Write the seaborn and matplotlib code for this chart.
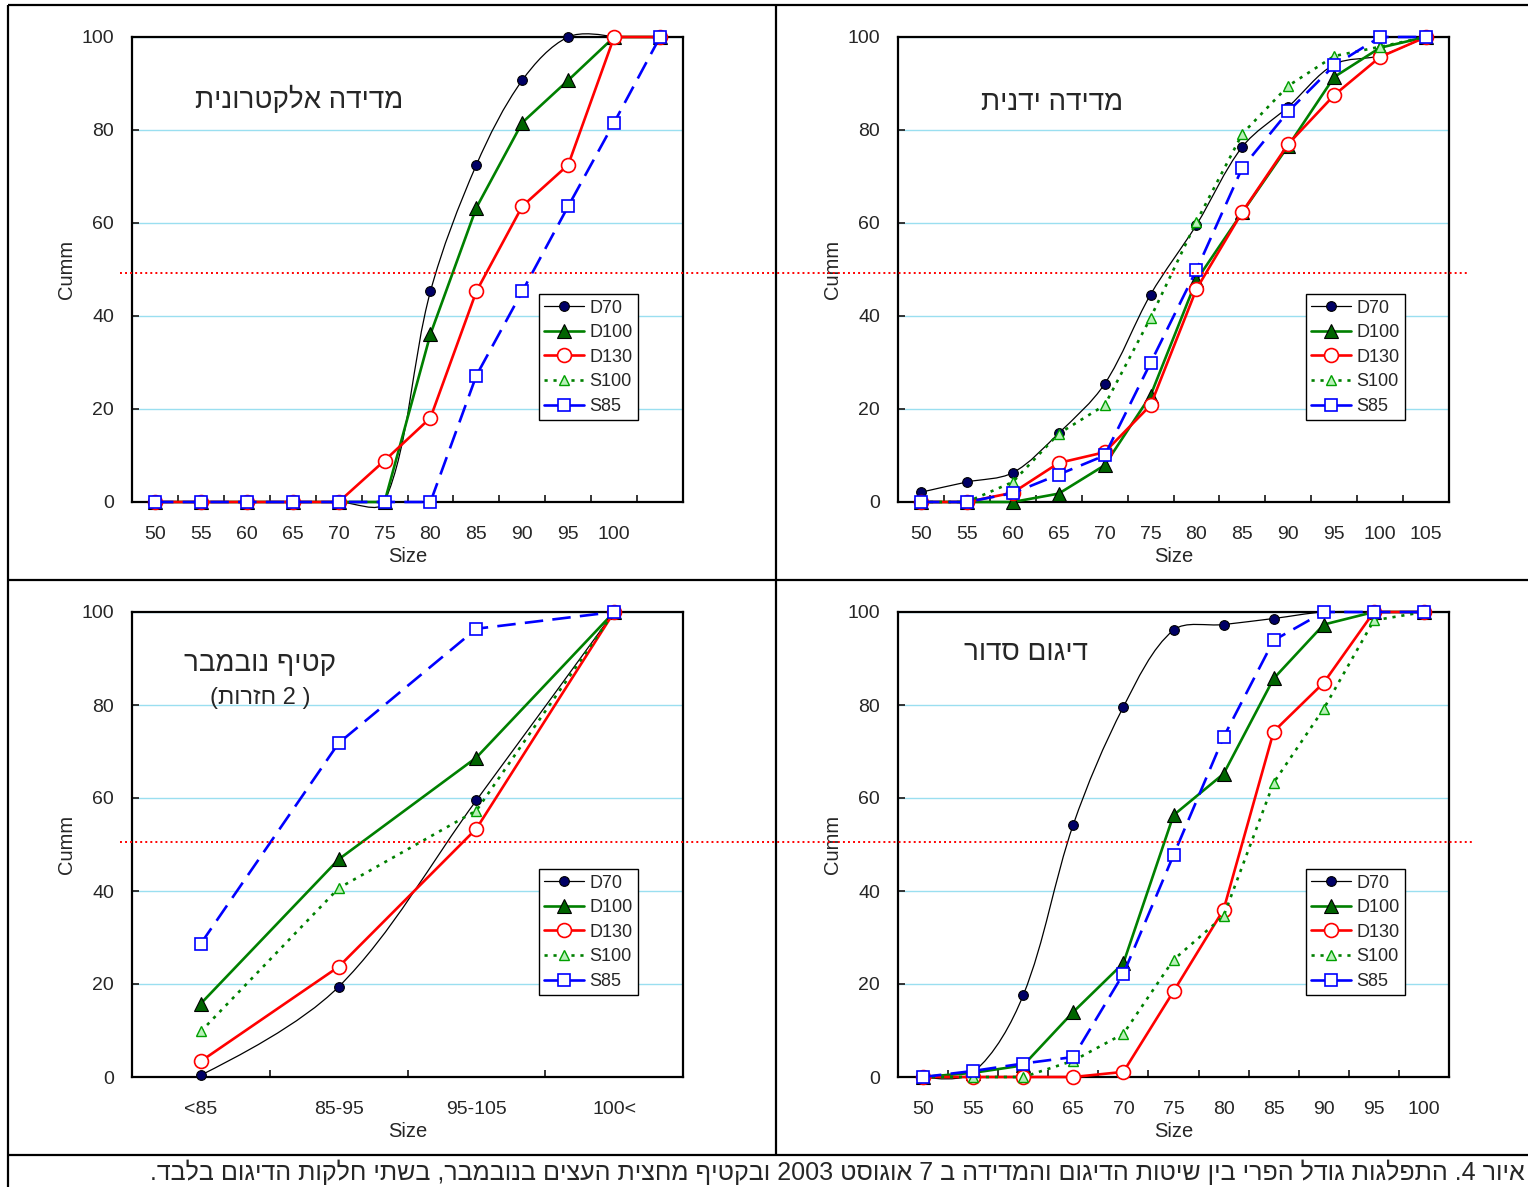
import re
import numpy as np
import pandas as pd
import matplotlib
matplotlib.use("Agg")
import matplotlib.pyplot as plt
import seaborn as sns
from matplotlib.lines import Line2D
from matplotlib.path import Path
from matplotlib.patches import PathPatch

nan = np.nan

# ---------------- data ----------------
series_names = ["D70", "D100", "D130", "S100", "S85"]

sizes_12 = ["50", "55", "60", "65", "70", "75", "80", "85", "90", "95", "100", "105"]
labels_el = ["50", "55", "60", "65", "70", "75", "80", "85", "90", "95", "100", ""]
sizes_11 = ["50", "55", "60", "65", "70", "75", "80", "85", "90", "95", "100"]
harvest_cats = ["<85", "85-95", "95-105", "100<"]

# Panel: electronic measurement
el_D70 = [0, 0, 0, 0, 0, 0, 45.3, 72.5, 90.7, 100, 100, nan]
el_D100 = [0, 0, 0, 0, 0, 0, 36.1, 63.3, 81.6, 90.7, 100, 100]
el_D130 = [0, 0, 0, 0, 0, 8.9, 18.1, 45.3, 63.6, 72.5, 100, 100]
el_S100 = [nan] * 12
el_S85 = [0, 0, 0, 0, 0, 0, 0, 27.2, 45.3, 63.6, 81.6, 100]

# Panel: manual measurement
ma_D70 = [2.1, 4.3, 6.3, 14.8, 25.4, 44.6, 59.6, 76.4, 85.0, 94.1, 96.0, 100]
ma_D100 = [0, 0, 0, 1.8, 7.9, 22.9, 47.7, 62.3, 76.6, 91.4, 97.7, 100]
ma_D130 = [0, 0, 2.0, 8.4, 10.7, 20.8, 45.8, 62.4, 77.0, 87.5, 95.7, 100]
ma_S100 = [0, 0, 4.3, 14.7, 20.8, 39.6, 60.3, 79.2, 89.5, 95.9, 97.9, 100]
ma_S85 = [0, 0, 1.9, 5.9, 10.0, 29.9, 49.9, 71.9, 84.0, 93.9, 100, 100]

# Panel: November harvest
hv_D70 = [0.4, 19.4, 59.5, 100]
hv_D100 = [15.8, 46.8, 68.7, 100]
hv_D130 = [3.4, 23.7, 53.4, 100]
hv_S100 = [9.8, 40.6, 57.3, 100]
hv_S85 = [28.7, 71.8, 96.4, 100]

# Panel: ordered sampling
sa_D70 = [0, 1.0, 17.6, 54.3, 79.6, 96.1, 97.3, 98.6, 100, 100, 100]
sa_D100 = [0, 0.9, 2.5, 14.0, 24.5, 56.3, 65.2, 85.7, 97.3, 100, 100]
sa_D130 = [0, 0, 0, 0, 1.1, 18.4, 36.0, 74.3, 84.8, 100, 100]
sa_S100 = [0, 0, 0, 3.5, 9.3, 25.2, 34.6, 63.3, 79.2, 98.2, 100]
sa_S85 = [0, 1.3, 2.9, 4.3, 22.2, 47.7, 73.1, 93.9, 100, 100, 100]

title_el = "מדידה אלקטרונית"
title_ma = "מדידה ידנית"
title_hv = "קטיף נובמבר"
subtitle_hv = "( 2 חזרות)"
title_sa = "דיגום סדור"
caption = ("איור 4. התפלגות גודל הפרי בין שיטות הדיגום והמדידה ב 7 אוגוסט 2003 "
           "ובקטיף מחצית העצים בנובמבר, בשתי חלקות הדיגום בלבד.")
ylabel = "Cumm"
xlabel = "Size"


def visual(s):
    """Convert logical-order RTL text to visual order for LTR rendering."""
    tokens = re.findall(r'[0-9A-Za-z]+|[\u0590-\u05FF]+|.', s)
    out = []
    for t in reversed(tokens):
        if re.match(r'[\u0590-\u05FF]', t):
            out.append(t[::-1])
        elif t == '(':
            out.append(')')
        elif t == ')':
            out.append('(')
        else:
            out.append(t)
    return ''.join(out)


# ---------------- style ----------------
sns.set_style("white")
FONT = ['Liberation Sans', 'DejaVu Sans']
plt.rcParams['font.family'] = FONT

styles = {
    "D70": dict(color="black", lw=0.9, marker="o", ms=7, mfc="#000066", mec="black", mew=0.8, ls="-"),
    "D100": dict(color="#008000", lw=1.9, marker="^", ms=9.5, mfc="#006400", mec="black", mew=0.8, ls="-"),
    "D130": dict(color="#FF0000", lw=1.9, marker="o", ms=10, mfc="white", mec="#FF0000", mew=1.2, ls="-"),
    "S100": dict(color="#008000", lw=1.9, marker="^", ms=7.5, mfc="#B8F0B8", mec="#00A000", mew=1.0, ls=(0, (1.2, 2.2))),
    "S85": dict(color="#0000FF", lw=1.9, marker="s", ms=9, mfc="white", mec="#0000FF", mew=1.2, ls=(0, (7, 3.5))),
}

GRID = "#9ADFF0"

fig = plt.figure(figsize=(15.28, 11.87), dpi=100)
W, H = 1528.0, 1187.0


def ax_rect(x0, y_top, x1, y_bot):
    return [x0 / W, 1 - y_bot / H, (x1 - x0) / W, (y_bot - y_top) / H]


def smooth_path(ax, xs, ys):
    """Excel-like smoothed line as cubic Bezier path (control lengths weighted by pixel distances)."""
    pts = np.array([(x, y) for x, y in zip(xs, ys) if not np.isnan(y)], dtype=float)
    px = ax.transData.transform(pts)
    n = len(pts)
    d = np.r_[np.hypot(*(px[1:] - px[:-1]).T)]
    out_c = np.zeros_like(pts)
    in_c = np.zeros_like(pts)
    for i in range(n):
        if i == 0 or i == n - 1:
            out_c[i] = pts[i]
            in_c[i] = pts[i]
            continue
        T = pts[i + 1] - pts[i - 1]
        d01, d12 = d[i - 1], d[i]
        s = d01 + d12 if d01 + d12 > 0 else 1.0
        out_c[i] = pts[i] + T * (1 / 3) * d12 / s
        in_c[i] = pts[i] - T * (1 / 3) * d01 / s
    if n > 2:
        out_c[0] = pts[0] + (in_c[1] - pts[0]) / 3
        in_c[n - 1] = pts[n - 1] + (out_c[n - 2] - pts[n - 1]) / 3
    verts = [tuple(pts[0])]
    codes = [Path.MOVETO]
    for i in range(n - 1):
        verts += [tuple(out_c[i]), tuple(in_c[i + 1]), tuple(pts[i + 1])]
        codes += [Path.CURVE4] * 3
    return Path(verts, codes)


def draw_panel(rect, cats, ticklabels, data, title, title_pos, subtitle=None, legend_x=0.918):
    ax = fig.add_axes(rect)
    n = len(cats)
    xpos = np.arange(n)
    ax.set_xlim(-0.5, n - 0.5)
    ax.set_ylim(0, 100)
    for name in series_names:
        vals = np.array(data[name], dtype=float)
        st = dict(styles[name])
        mask = ~np.isnan(vals)
        if mask.sum() == 0:
            continue
        df = pd.DataFrame({"x": xpos[mask], "y": vals[mask]})
        if name == "D70":
            path = smooth_path(ax, xpos, vals)
            patch = PathPatch(path, transform=ax.transData, fill=False,
                              edgecolor="black", lw=st["lw"], clip_on=False, zorder=3)
            ax.add_patch(patch)
            sns.lineplot(data=df, x="x", y="y", ax=ax, sort=False, estimator=None,
                         color=st["color"], marker=st["marker"], markersize=st["ms"],
                         markerfacecolor=st["mfc"], markeredgecolor=st["mec"],
                         markeredgewidth=st["mew"], linestyle="", clip_on=False, zorder=3)
        else:
            sns.lineplot(data=df, x="x", y="y", ax=ax, sort=False, estimator=None,
                         color=st["color"], lw=st["lw"], linestyle=st["ls"],
                         marker=st["marker"], markersize=st["ms"],
                         markerfacecolor=st["mfc"], markeredgecolor=st["mec"],
                         markeredgewidth=st["mew"], clip_on=False, zorder=3)

    ax.set_xlim(-0.5, n - 0.5)
    ax.set_ylim(0, 100)
    ax.set_xticks(xpos)
    ax.set_xticklabels(ticklabels)
    ax.set_xticks(np.arange(n - 1) + 0.5, minor=True)
    ax.set_yticks([0, 20, 40, 60, 80, 100])
    ax.tick_params(axis="x", which="major", length=0, pad=17, labelsize=14)
    ax.tick_params(axis="x", which="minor", length=5, width=1.3, direction="in", bottom=True)
    ax.tick_params(axis="y", which="major", length=5, width=1.3, direction="in", left=True,
                   pad=13, labelsize=14)
    ax.yaxis.grid(True, color=GRID, lw=1.0)
    ax.xaxis.grid(False)
    ax.set_axisbelow(True)
    for sp in ax.spines.values():
        sp.set_visible(True)
        sp.set_color("black")
        sp.set_linewidth(1.6)
        sp.set_zorder(2.5)
    ax.set_xlabel(xlabel, fontsize=14.5, labelpad=3)
    ax.set_ylabel(ylabel, fontsize=14.5, labelpad=4)

    ax.text(title_pos[0], title_pos[1], visual(title), transform=ax.transAxes,
            ha="center", va="center", fontsize=20, family=FONT)
    if subtitle:
        ax.text(title_pos[0], title_pos[1] - 0.072, visual(subtitle), transform=ax.transAxes,
                ha="center", va="center", fontsize=17, family=FONT)

    handles = []
    for name in series_names:
        st = styles[name]
        ls = "-" if name == "S85" else st["ls"]
        handles.append(Line2D([], [], color=st["color"], lw=st["lw"], ls=ls,
                              marker=st["marker"], ms=st["ms"], mfc=st["mfc"],
                              mec=st["mec"], mew=st["mew"]))
    leg = ax.legend(handles, series_names, loc="upper right",
                    bbox_to_anchor=(legend_x, 0.447), fontsize=13, frameon=True,
                    fancybox=False, shadow=False, framealpha=1, edgecolor="black",
                    handlelength=2.2, handletextpad=0.3, labelspacing=0.42,
                    borderpad=0.3, borderaxespad=0.0)
    leg.get_frame().set_linewidth(1.0)
    leg.set_zorder(5)
    return ax


draw_panel(ax_rect(132, 37, 683, 502), sizes_12, labels_el,
           dict(D70=el_D70, D100=el_D100, D130=el_D130, S100=el_S100, S85=el_S85),
           title_el, (0.303, 0.865), legend_x=0.918)
draw_panel(ax_rect(898, 37, 1449, 502), sizes_12, sizes_12,
           dict(D70=ma_D70, D100=ma_D100, D130=ma_D130, S100=ma_S100, S85=ma_S85),
           title_ma, (0.279, 0.857), legend_x=0.92)
draw_panel(ax_rect(132, 612, 683, 1077), harvest_cats, harvest_cats,
           dict(D70=hv_D70, D100=hv_D100, D130=hv_D130, S100=hv_S100, S85=hv_S85),
           title_hv, (0.232, 0.888), subtitle=subtitle_hv, legend_x=0.918)
draw_panel(ax_rect(898, 612, 1449, 1077), sizes_11, sizes_11,
           dict(D70=sa_D70, D100=sa_D100, D130=sa_D130, S100=sa_S100, S85=sa_S85),
           title_sa, (0.232, 0.912), legend_x=0.92)


# ---------------- frame lines & reference lines ----------------
def fline(x0, y0, x1, y1, **kw):
    fig.add_artist(Line2D([x0 / W, x1 / W], [1 - y0 / H, 1 - y1 / H],
                          transform=fig.transFigure, **kw))


frame_kw = dict(color="black", lw=1.6, solid_capstyle="butt")
fline(8, 5, 1528, 5, **frame_kw)
fline(8, 5, 8, 1187, **frame_kw)
fline(776, 5, 776, 1155, **frame_kw)
fline(8, 580, 1528, 580, **frame_kw)
fline(8, 1155, 1528, 1155, **frame_kw)

dot_kw = dict(color="#FF0000", lw=1.4, ls=(0, (1, 1.6)), zorder=4)
fline(120, 273, 1468, 273, **dot_kw)
fline(120, 842, 1472, 842, **dot_kw)

fig.text(1525 / W, 1 - 1172 / H, visual(caption), ha="right", va="center",
         fontsize=18, family=FONT)

fig.savefig("out.png", dpi=100)
